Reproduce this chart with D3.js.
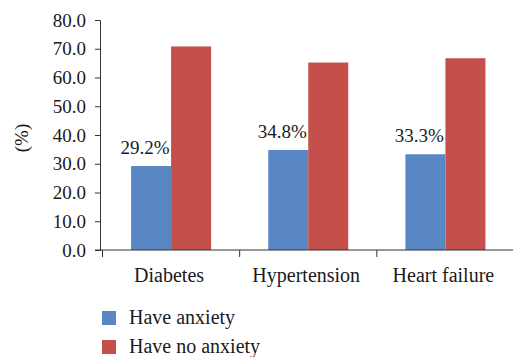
<!DOCTYPE html>
<html>
<head>
<meta charset="utf-8">
<script src="https://cdn.jsdelivr.net/npm/d3@7"></script>
<style>
  body { margin: 0; background: #fff; }
</style>
</head>
<body>
<svg id="chart" width="513" height="357"></svg>
<script>
const categories = ["Diabetes", "Hypertension", "Heart failure"];
const series = ["Have anxiety", "Have no anxiety"];
const withAnxiety = [29.2, 34.8, 33.3];
const withoutAnxiety = [70.8, 65.2, 66.7];
const yTicks = [0, 10, 20, 30, 40, 50, 60, 70, 80];
const colors = ["#5987c3", "#c44f4b"];

const FONT = "'Liberation Serif', Tinos, 'Times New Roman', 'DejaVu Serif', serif";

const svg = d3.select("#chart");
const margin = { left: 100, top: 20, right: 0, bottom: 107 };
const width = 513 - margin.left - margin.right;
const height = 357 - margin.top - margin.bottom;

const g = svg.append("g").attr("transform", `translate(${margin.left},${margin.top})`);

const x = d3.scaleBand().domain(categories).range([2.5, width + 1]);
const xInner = d3.scaleBand().domain(series).range([x.bandwidth() / 2 - 40, x.bandwidth() / 2 + 40]);
const y = d3.scaleLinear().domain([0, 80]).range([height, 0]);

// y axis
const yAxis = g.append("g")
  .call(d3.axisLeft(y).tickValues(yTicks).tickFormat(d3.format(".1f")).tickSize(5).tickPadding(9));
yAxis.attr("font-family", FONT);
yAxis.select(".domain").attr("stroke", "#333");
yAxis.selectAll(".tick line").attr("stroke", "#333");
yAxis.selectAll("text").attr("font-size", 19).attr("fill", "#1a1a1a");

// bars
const rows = categories.map((c, i) => ({ cat: c, vals: [withAnxiety[i], withoutAnxiety[i]] }));
const grp = g.selectAll("g.cat").data(rows).enter().append("g")
  .attr("class", "cat")
  .attr("transform", d => `translate(${x(d.cat)},0)`);

grp.selectAll("rect").data(d => d.vals.map((v, j) => ({ s: series[j], v: v, j: j })))
  .enter().append("rect")
  .attr("x", d => xInner(d.s))
  .attr("y", d => y(d.v))
  .attr("width", xInner.bandwidth())
  .attr("height", d => height - y(d.v))
  .attr("fill", d => colors[d.j]);

// value labels on blue bars
grp.append("text")
  .attr("x", d => xInner(series[0]) + xInner.bandwidth() / 2 - 6)
  .attr("y", d => y(d.vals[0]) - 12)
  .attr("text-anchor", "middle")
  .attr("font-family", FONT)
  .attr("font-size", 19)
  .attr("fill", "#1a1a1a")
  .text(d => d.vals[0].toFixed(1) + "%");

// x axis
const xAxis = g.append("g").attr("transform", `translate(0,${height})`);
xAxis.append("line").attr("x1", -5).attr("x2", width).attr("stroke", "#333");
const bounds = d3.range(categories.length + 1).map(i => x.range()[0] + i * x.step());
xAxis.selectAll("line.tk").data(bounds).enter().append("line")
  .attr("class", "tk")
  .attr("x1", d => d).attr("x2", d => d)
  .attr("y1", 0).attr("y2", 7)
  .attr("stroke", "#333");
xAxis.selectAll("text").data(categories).enter().append("text")
  .attr("x", d => x(d) + x.bandwidth() / 2 - 2)
  .attr("y", 32)
  .attr("text-anchor", "middle")
  .attr("font-family", FONT)
  .attr("font-size", 20)
  .attr("fill", "#1a1a1a")
  .text(d => d);

// y title
svg.append("text")
  .attr("transform", "translate(28,138) rotate(-90)")
  .attr("text-anchor", "middle")
  .attr("font-family", FONT)
  .attr("font-size", 19)
  .attr("fill", "#1a1a1a")
  .text("(%)");

// legend
const legend = svg.append("g").attr("transform", "translate(102,311)");
const li = legend.selectAll("g").data(series).enter().append("g")
  .attr("transform", (d, i) => `translate(0,${i * 29})`);
li.append("rect").attr("width", 14).attr("height", 14).attr("fill", (d, i) => colors[i]);
li.append("text").attr("x", 27).attr("y", 13)
  .attr("font-family", FONT).attr("font-size", 20).attr("fill", "#1a1a1a")
  .text(d => d);
</script>
</body>
</html>
